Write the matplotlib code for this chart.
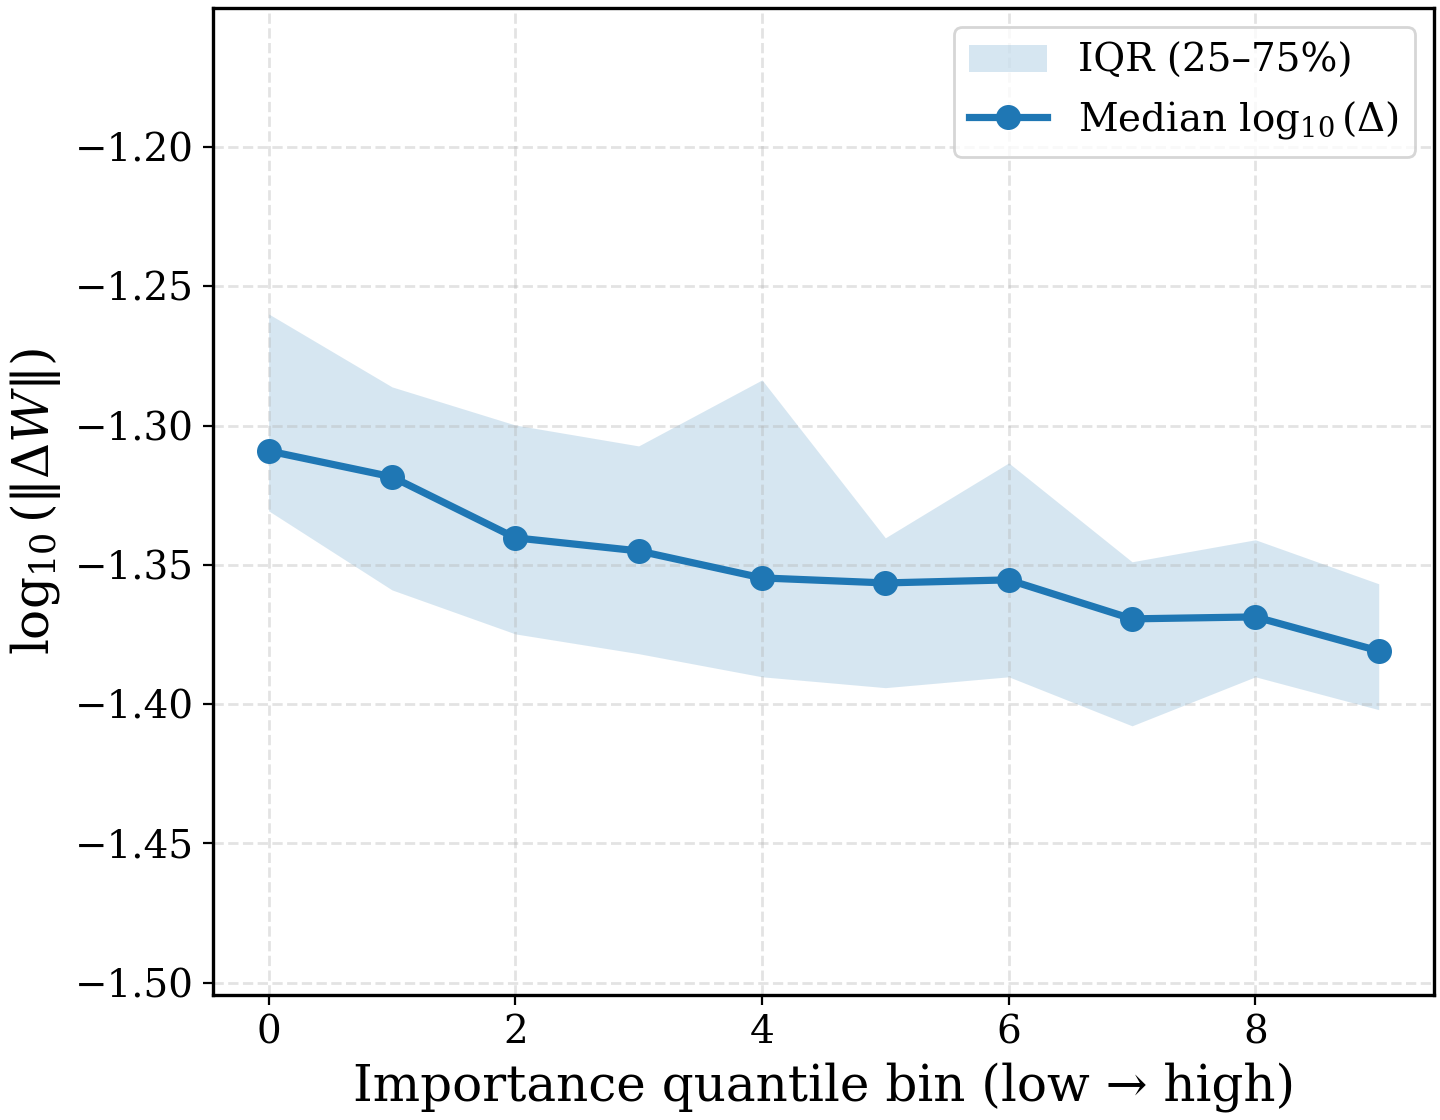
import numpy as np
import matplotlib
matplotlib.use("Agg")
import matplotlib.pyplot as plt

plt.rcParams['font.family'] = 'DejaVu Serif'
plt.rcParams['mathtext.fontset'] = 'dejavuserif'

# quantile bins and log10 deltas
bins = np.arange(10)
median = [-1.3091, -1.3184, -1.3403, -1.3450, -1.3547, -1.3565, -1.3554, -1.3694, -1.3687, -1.3809]
q75 = [-1.2599, -1.2861, -1.2998, -1.3073, -1.2836, -1.3403, -1.3134, -1.3489, -1.3410, -1.3568]
q25 = [-1.3306, -1.3590, -1.3748, -1.3819, -1.3902, -1.3941, -1.3902, -1.4078, -1.3902, -1.4020]

fig, ax = plt.subplots(figsize=(7.2, 5.6), dpi=200)
fig.subplots_adjust(left=0.148, right=0.996, bottom=0.112, top=0.993)

ax.fill_between(bins, q25, q75, color='C0', alpha=0.18, linewidth=0, label='IQR (25–75%)')
ax.plot(bins, median, marker='o', color='C0', lw=2.6, ms=8, label=r'Median $\log_{10}(\Delta)$')

ax.set_ylim(-1.5043, -1.15)
ax.set_yticks([-1.50, -1.45, -1.40, -1.35, -1.30, -1.25, -1.20])
ax.set_xticks([0, 2, 4, 6, 8])
ax.tick_params(labelsize=14)
ax.set_xlabel('Importance quantile bin (low → high)', fontsize=18)
ax.set_ylabel(r'$\log_{10}(\|\Delta W\|)$', fontsize=18)
ax.grid(True, linestyle='--', linewidth=1.0, alpha=0.35)
for s in ax.spines.values():
    s.set_linewidth(1.2)
ax.legend(loc='upper right', fontsize=14)

fig.savefig('out.png', dpi=200)
